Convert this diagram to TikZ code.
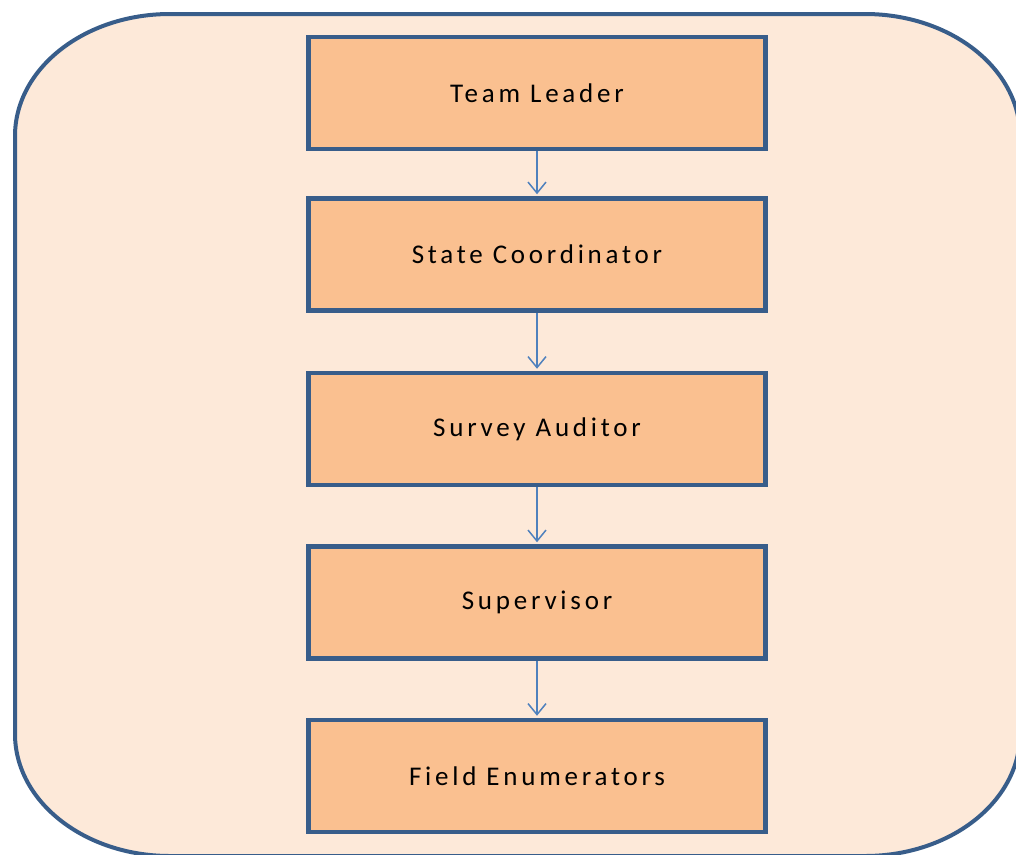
\documentclass[tikz,border=0pt]{standalone}
\usepackage{fontspec}
\setmainfont{Carlito}
\newfontfamily\boxfont[LetterSpace=14]{Carlito}
\usetikzlibrary{arrows.meta}
\definecolor{boxfill}{HTML}{FAC090}
\definecolor{outerfill}{HTML}{FDE9D9}
\definecolor{edgeblue}{HTML}{385D8A}
\definecolor{arrowblue}{HTML}{4F81BD}
\begin{document}
\begin{tikzpicture}[x=1pt,y=-1pt,
  rolebox/.style={draw=edgeblue, line width=4.5pt, fill=boxfill,
    minimum width=457pt, minimum height=112pt, inner sep=0pt,
    font=\boxfont\fontsize{27}{32}\selectfont},
  flow/.style={draw=arrowblue, line width=1.5pt, shorten >=2pt,
    -{Straight Barb[length=11pt,width=18pt]}}]
\useasboundingbox (0,0) rectangle (1016,854);
\path[draw=edgeblue, line width=4pt, fill=outerfill]
  (170,14) -- (865,14) .. controls (950.6,14) and (1020,68.6) .. (1020,136)
  -- (1020,734) .. controls (1020,801.4) and (950.6,856) .. (865,856)
  -- (170,856) .. controls (84.4,856) and (15,801.4) .. (15,734)
  -- (15,136) .. controls (15,68.6) and (84.4,14) .. (170,14) -- cycle;
\node[rolebox] (lead) at (537,93) {Team Leader};
\node[rolebox] (state) at (537,254.5) {State Coordinator};
\node[rolebox] (audit) at (537,429) {Survey Auditor};
\node[rolebox] (super) at (537,602.5) {Supervisor};
\node[rolebox] (field) at (537,776) {Field Enumerators};
\draw[flow] (lead.south) -- (state.north);
\draw[flow] (state.south) -- (audit.north);
\draw[flow] (audit.south) -- (super.north);
\draw[flow] (super.south) -- (field.north);
\end{tikzpicture}
\end{document}
